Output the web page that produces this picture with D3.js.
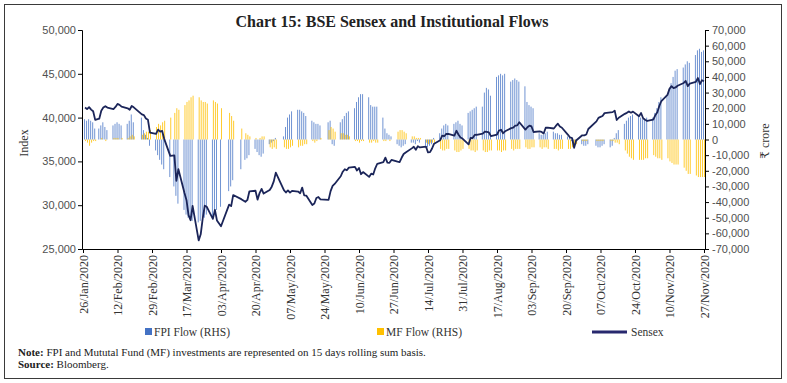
<!DOCTYPE html>
<html>
<head>
<meta charset="utf-8">
<script src="https://cdn.jsdelivr.net/npm/d3@7"></script>
<style>
  html, body { margin: 0; padding: 0; background: #fff; }
  svg { display: block; }
</style>
</head>
<body>
<svg id="chart" width="787" height="383"></svg>
<script>
// ---------------- DATA ----------------
// Trading days (2020, MM-DD)
const dates = [
  "01-27","01-28","01-29","01-30","01-31","02-01",
  "02-03","02-04","02-05","02-06","02-07",
  "02-10","02-11","02-12","02-13","02-14",
  "02-17","02-18","02-19","02-20",
  "02-24","02-25","02-26","02-27","02-28",
  "03-02","03-03","03-04","03-05","03-06",
  "03-09","03-11","03-12","03-13",
  "03-16","03-17","03-18","03-19","03-20",
  "03-23","03-24","03-25","03-26","03-27",
  "03-30","03-31","04-01","04-03",
  "04-07","04-08","04-09",
  "04-13","04-15","04-16","04-17",
  "04-20","04-21","04-22","04-23","04-24",
  "04-27","04-28","04-29","04-30",
  "05-04","05-05","05-06","05-07","05-08",
  "05-11","05-12","05-13","05-14","05-15",
  "05-18","05-19","05-20","05-21","05-22",
  "05-26","05-27","05-28","05-29",
  "06-01","06-02","06-03","06-04","06-05",
  "06-08","06-09","06-10","06-11","06-12",
  "06-15","06-16","06-17","06-18","06-19",
  "06-22","06-23","06-24","06-25","06-26",
  "06-29","06-30","07-01","07-02","07-03",
  "07-06","07-07","07-08","07-09","07-10",
  "07-13","07-14","07-15","07-16","07-17",
  "07-20","07-21","07-22","07-23","07-24",
  "07-27","07-28","07-29","07-30","07-31",
  "08-03","08-04","08-05","08-06","08-07",
  "08-10","08-11","08-12","08-13","08-14",
  "08-17","08-18","08-19","08-20","08-21",
  "08-24","08-25","08-26","08-27","08-28",
  "08-31","09-01","09-02","09-03","09-04",
  "09-07","09-08","09-09","09-10","09-11",
  "09-14","09-15","09-16","09-17","09-18",
  "09-21","09-22","09-23","09-24","09-25",
  "09-28","09-29","09-30","10-01",
  "10-05","10-06","10-07","10-08","10-09",
  "10-12","10-13","10-14","10-15","10-16",
  "10-19","10-20","10-21","10-22","10-23",
  "10-26","10-27","10-28","10-29","10-30",
  "11-02","11-03","11-04","11-05","11-06",
  "11-09","11-10","11-11","11-12","11-13","11-14",
  "11-17","11-18","11-19","11-20",
  "11-23","11-24","11-25","11-26","11-27"
];

// BSE Sensex close (index)
const sensex = [
  41155,40967,41198,40914,40723,39736,
  39872,40789,41143,41306,41142,
  40980,41216,41566,41460,41258,
  41056,40894,41323,41170,
  40363,40282,39888,39746,38297,
  38144,38623,38409,38471,37577,
  35635,35697,32778,34103,
  31390,30579,28869,28288,29916,
  25981,26674,28536,29947,29816,
  28440,29468,28265,27591,
  30067,29894,31160,
  30690,30380,30602,31589,
  31648,30636,31380,31863,31327,
  31743,32115,32720,33718,
  31715,31453,31686,31443,31642,
  31561,31371,32009,31123,31097,
  30029,30196,30819,30932,30673,
  30609,31605,32201,32424,
  33304,33825,34110,33981,34287,
  34371,33957,34247,33538,33781,
  33229,33605,33508,34208,34731,
  34911,35431,34868,34843,35171,
  34962,34916,35415,35844,36022,
  36487,36675,36330,36738,36594,
  36694,36034,36052,36472,37020,
  37418,37930,37872,38140,38129,
  37934,38493,38071,37736,37607,
  36940,37688,37663,38025,38040,
  38182,38407,38370,38310,37877,
  38050,38528,38614,38220,38434,
  38799,38843,39073,39113,39467,
  38628,38900,39086,38990,38357,
  38417,38365,38193,38840,38855,
  38757,39044,39303,38980,38845,
  38034,37734,37668,36553,37389,
  37982,37973,38068,38697,
  39574,39974,40079,40183,40509,
  40593,40626,40794,39728,39983,
  40432,40544,40708,40558,40685,
  40146,40522,39922,39750,39614,
  39757,40261,40616,41340,41893,
  42597,43278,43594,43357,43443,43638,
  43953,44180,43600,43882,
  44077,44523,43829,44260,44150
];

// FPI flow, 15-day rolling sum ('000 crore)
const fpiFlow = [
  13,12,13,12,11,7,
  7,9,11,8,6,
  9,10,11,10,9,
  10,12,16,11,
  14,6,3,1,-4,
  -7,-10,-13,-16,-19,
  -24,-30,-36,-41,
  -45,-48,-50,-51,-52,
  -53,-52,-50,-50,-48,
  -49,-47,-45,-43,
  -33,-30,-26,
  -19,-13,-12,-10,
  -6,-8,-10,-11,-9,
  -3,-2,-1,1,
  2,8,14,16,18,
  19,19,18,17,15,
  12,11,10,10,9,
  11,12,-3,-4,
  11,13,15,17,18,
  20,24,27,29,29,
  27,22,21,21,21,
  14,7,4,3,2,
  -3,-4,-5,-4,-3,
  -2,-2,-3,-1,-2,
  -4,-5,-4,-3,1,
  4,7,9,10,9,
  10,11,12,10,9,
  17,18,19,20,21,
  21,30,33,32,28,
  40,41,42,41,42,
  37,38,39,38,37,
  34,24,22,21,20,
  4,3,3,4,5,
  5,4,4,3,3,
  2,1,-1,-2,-3,
  -3,-4,-4,-3,
  -4,-5,-5,-4,-3,
  -5,-4,1,4,6,
  10,12,14,15,16,
  15,14,13,13,14,
  14,17,20,24,27,
  28,32,36,40,44,45,
  46,48,50,49,
  54,57,58,56,57
];

// MF flow, 15-day rolling sum ('000 crore)
const mfFlow = [
  -1,-2,-4,-2,-1,-1,
  0,1,0,-1,0,
  1,1,1,0,1,
  1,2,3,2,
  3,4,5,5,6,
  8,10,9,11,12,
  14,17,20,19,
  22,24,25,27,28,
  27,25,24,24,23,
  25,24,23,20,
  17,15,12,
  7,4,3,2,
  1,0,1,2,2,
  -5,-6,-5,-6,
  -5,-6,-6,-5,-4,
  -5,-4,-4,-3,-3,
  -1,-2,-1,0,1,
  6,8,7,5,
  4,4,3,3,2,
  -1,-1,-2,-1,-1,
  -2,-2,-1,-2,-2,
  -1,-1,0,-1,0,
  5,6,6,5,4,
  2,2,1,1,1,
  -2,-3,-2,-2,-2,
  -6,-7,-7,-6,-6,
  -7,-8,-8,-7,-6,
  -6,-7,-7,-8,-7,
  -7,-8,-8,-7,-7,
  -7,-7,-8,-7,-7,
  -6,-7,-6,-6,-6,
  -5,-6,-6,-5,-5,
  -5,-6,-5,-5,-6,
  -6,-6,-7,-6,-6,
  -6,-6,-5,-4,-3,
  -1,-1,-1,0,
  -1,-1,-1,-1,0,
  -1,-1,-2,-2,-3,
  -7,-9,-11,-12,-13,
  -13,-13,-13,-12,-12,
  -10,-11,-12,-12,-13,
  -12,-14,-15,-16,-16,-16,
  -18,-20,-22,-22,
  -23,-24,-24,-24,-24
];

const xTickLabels = [
  "26/Jan/2020","12/Feb/2020","29/Feb/2020","17/Mar/2020","03/Apr/2020",
  "20/Apr/2020","07/May/2020","24/May/2020","10/Jun/2020","27/Jun/2020",
  "14/Jul/2020","31/Jul/2020","17/Aug/2020","03/Sep/2020","20/Sep/2020",
  "07/Oct/2020","24/Oct/2020","10/Nov/2020","27/Nov/2020"
];
const leftTicks = [25000, 30000, 35000, 40000, 45000, 50000];
const rightTicks = [-70000,-60000,-50000,-40000,-30000,-20000,-10000,0,10000,20000,30000,40000,50000,60000,70000];
const legendLabels = ["FPI Flow (RHS)", "MF Flow (RHS)", "Sensex"];

// ---------------- CHART ----------------
const svg = d3.select("#chart");
const parseDay = d3.timeParse("%Y-%m-%d");
const parseLabel = d3.timeParse("%d/%b/%Y");
const rows = dates.map((d, i) => ({
  date: parseDay("2020-" + d),
  sensex: sensex[i],
  fpi: fpiFlow[i] * 1000,
  mf: mfFlow[i] * 1000
}));

const plot = { left: 82, right: 705, top: 30, bottom: 249 };
const x = d3.scaleTime()
  .domain([new Date(2020, 0, 25, 12), new Date(2020, 10, 27, 12)])
  .range([plot.left, plot.right]);
const yL = d3.scaleLinear().domain([25000, 50000]).range([plot.bottom, plot.top]);
const yR = d3.scaleLinear().domain([-70000, 70000]).range([plot.bottom, plot.top]);

const locale = d3.formatLocale({ decimal: ".", thousands: ",", grouping: [3], currency: ["", ""], minus: "-" });
const fmt = locale.format(",");

// Outer frame
svg.append("rect")
  .attr("x", 4.5).attr("y", 4.5).attr("width", 777).attr("height", 374)
  .attr("fill", "none").attr("stroke", "#3a3a3a").attr("stroke-width", 1);

// Title
svg.append("text")
  .attr("x", 392).attr("y", 27)
  .attr("text-anchor", "middle")
  .attr("font-family", "Liberation Serif, DejaVu Serif, serif")
  .attr("font-weight", "bold")
  .attr("font-size", 16)
  .attr("fill", "#222")
  .text("Chart 15: BSE Sensex and Institutional Flows");

// Bars
const barW = 0.95;
svg.append("g").attr("fill-opacity", 0.8).selectAll("rect.fpi").data(rows).join("rect")
  .attr("class", "fpi")
  .attr("x", d => x(d.date) - barW)
  .attr("width", barW)
  .attr("y", d => Math.min(yR(d.fpi), yR(0)))
  .attr("height", d => Math.abs(yR(d.fpi) - yR(0)))
  .attr("fill", "#4472C4");

svg.append("g").attr("fill-opacity", 0.85).selectAll("rect.mf").data(rows).join("rect")
  .attr("class", "mf")
  .attr("x", d => x(d.date))
  .attr("width", barW)
  .attr("y", d => Math.min(yR(d.mf), yR(0)))
  .attr("height", d => Math.abs(yR(d.mf) - yR(0)))
  .attr("fill", "#FFC000");

// Sensex line
svg.append("path")
  .datum(rows)
  .attr("fill", "none")
  .attr("stroke", "#1b2559")
  .attr("stroke-width", 1.8)
  .attr("stroke-linejoin", "round")
  .attr("d", d3.line().x(d => x(d.date)).y(d => yL(d.sensex)));

// Axes
const axisFont = "Liberation Sans, Arial, sans-serif";
const gL = svg.append("g").attr("transform", `translate(${plot.left},0)`)
  .call(d3.axisLeft(yL).tickValues(leftTicks).tickFormat(fmt).tickSize(4).tickPadding(2));
const gR = svg.append("g").attr("transform", `translate(${plot.right},0)`)
  .call(d3.axisRight(yR).tickValues(rightTicks).tickFormat(fmt).tickSize(4).tickPadding(3));
[gL, gR].forEach(g => {
  g.select(".domain").attr("stroke", "#000");
  g.selectAll(".tick line").attr("stroke", "#000");
  g.selectAll("text").attr("font-family", axisFont).attr("font-size", 11).attr("fill", "#505050");
});

const gX = svg.append("g").attr("transform", `translate(0,${plot.bottom})`)
  .call(d3.axisBottom(x).tickValues(xTickLabels.map(parseLabel)).tickFormat(d3.timeFormat("%d/%b/%Y")).tickSize(4).tickSizeOuter(0));
gX.select(".domain").attr("stroke", "#000");
gX.selectAll(".tick line").attr("stroke", "#000");
gX.selectAll("text")
  .attr("font-family", "Liberation Serif, DejaVu Serif, serif")
  .attr("font-size", 12)
  .attr("fill", "#333")
  .attr("text-anchor", "end")
  .attr("transform", "rotate(-90)")
  .attr("x", -6).attr("y", 0).attr("dy", "0.35em");

// Axis titles
svg.append("text")
  .attr("transform", "translate(28,143) rotate(-90)")
  .attr("text-anchor", "middle")
  .attr("font-family", "Liberation Serif, DejaVu Serif, serif")
  .attr("font-size", 12).attr("fill", "#333")
  .text("Index");
svg.append("text")
  .attr("transform", "translate(769,141) rotate(-90)")
  .attr("text-anchor", "middle")
  .attr("font-family", "Liberation Serif, DejaVu Serif, serif")
  .attr("font-size", 12).attr("fill", "#333")
  .text("₹ crore");

// Legend
const legFont = "Liberation Serif, DejaVu Serif, serif";
const leg = svg.append("g");
leg.append("rect").attr("x", 145).attr("y", 328).attr("width", 7).attr("height", 7).attr("fill", "#4472C4");
leg.append("text").attr("x", 154).attr("y", 336).attr("font-family", legFont).attr("font-size", 11.5).attr("fill", "#333").text(legendLabels[0]);
leg.append("rect").attr("x", 377).attr("y", 328).attr("width", 7).attr("height", 7).attr("fill", "#FFC000");
leg.append("text").attr("x", 386).attr("y", 336).attr("font-family", legFont).attr("font-size", 11.5).attr("fill", "#333").text(legendLabels[1]);
leg.append("line").attr("x1", 592).attr("x2", 627).attr("y1", 332).attr("y2", 332).attr("stroke", "#27286e").attr("stroke-width", 3);
leg.append("text").attr("x", 631).attr("y", 336).attr("font-family", legFont).attr("font-size", 11.5).attr("fill", "#333").text(legendLabels[2]);

// Notes
const note = svg.append("text").attr("x", 18).attr("y", 356)
  .attr("font-family", legFont).attr("font-size", 11).attr("fill", "#222");
note.append("tspan").attr("font-weight", "bold").text("Note:");
note.append("tspan").text(" FPI and Mututal Fund (MF) investments are represented on 15 days rolling sum basis.");
const src = svg.append("text").attr("x", 18).attr("y", 368)
  .attr("font-family", legFont).attr("font-size", 11).attr("fill", "#222");
src.append("tspan").attr("font-weight", "bold").text("Source:");
src.append("tspan").text(" Bloomberg.");
</script>
</body>
</html>
